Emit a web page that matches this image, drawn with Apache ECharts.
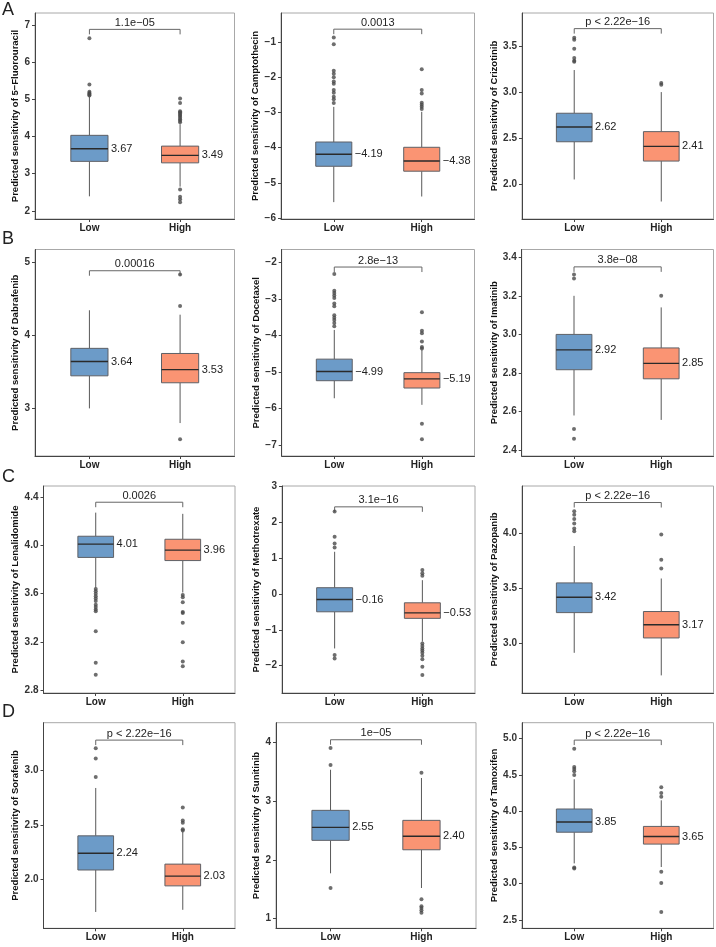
<!DOCTYPE html>
<html><head><meta charset="utf-8">
<script src="https://cdn.jsdelivr.net/npm/echarts@6/dist/echarts.min.js"></script>
<style>html,body{margin:0;padding:0;background:#fff}#c{width:716px;height:947px}</style>
</head><body><div id="c"></div><script>
// ---------------- data ----------------
const drugs = ['5−Fluorouracil','Camptothecin','Crizotinib','Dabrafenib','Docetaxel','Imatinib',
  'Lenalidomide','Methotrexate','Pazopanib','Sorafenib','Sunitinib','Tamoxifen'];
const groups = ['Low','High'];
const pValues = ['1.1e−05','0.0013','p < 2.22e−16','0.00016','2.8e−13','3.8e−08',
  '0.0026','3.1e−16','p < 2.22e−16','p < 2.22e−16','1e−05','p < 2.22e−16'];
// [lower whisker, Q1, median, Q3, upper whisker]
const lowStats = [
  [2.39,3.33,3.67,4.03,5.07],[-5.55,-4.53,-4.19,-3.84,-2.84],[2.05,2.46,2.62,2.77,3.24],
  [3.00,3.445,3.64,3.82,4.34],[-5.72,-5.24,-4.99,-4.65,-3.85],[2.58,2.817,2.92,3.00,3.20],
  [3.65,3.90,4.01,4.075,4.27],[-1.52,-0.50,-0.16,0.17,1.17],[2.915,3.28,3.42,3.55,3.885],
  [1.70,2.086,2.24,2.40,2.84],[1.77,2.33,2.55,2.84,3.53],[3.28,3.71,3.85,4.03,4.44]];
const highStats = [
  [2.65,3.29,3.49,3.74,4.33],[-5.39,-4.67,-4.38,-3.99,-2.98],[1.81,2.25,2.41,2.57,3.00],
  [2.80,3.35,3.53,3.75,4.28],[-5.90,-5.44,-5.19,-5.02,-4.39],[2.557,2.77,2.85,2.93,3.14],
  [3.61,3.874,3.96,4.05,4.26],[-1.33,-0.683,-0.53,-0.25,0.38],[2.71,3.05,3.17,3.29,3.59],
  [1.72,1.94,2.03,2.14,2.44],[1.52,2.17,2.40,2.67,3.39],[3.23,3.546,3.65,3.79,4.15]];
const lowOutliers = [
  [6.64,5.40,5.20,5.17,5.15,5.12,5.10],
  [-0.87,-1.06,-1.81,-1.90,-2.00,-2.12,-2.18,-2.36,-2.44,-2.55,-2.62,-2.73],
  [3.59,3.57,3.47,3.37,3.34,3.33],
  [],
  [-2.32,-2.78,-2.84,-2.91,-2.98,-3.13,-3.20,-3.45,-3.52,-3.58,-3.66,-3.75],
  [3.31,3.29,2.51,2.46],
  [3.64,3.62,3.60,3.58,3.56,3.54,3.51,3.49,3.47,3.455,3.29,3.03,2.93],
  [2.29,1.59,1.40,1.29,-1.70,-1.80],
  [4.20,4.17,4.13,4.09,4.045,4.02],
  [3.205,3.11,2.94],
  [3.90,3.61,1.52],
  [4.86,4.61,4.58,4.55,4.50,3.225,3.21]];
const highOutliers = [
  [5.02,4.90,4.68,4.65,4.62,4.58,4.55,4.50,4.46,4.42,4.38,2.57,2.38,2.31,2.23],
  [-1.77,-2.36,-2.46,-2.72,-2.78,-2.84,-2.90],
  [3.10,3.08],
  [4.83,4.40,2.58],
  [-3.37,-3.87,-3.94,-4.17,-4.32,-4.36,-6.42,-6.84],
  [3.20],
  [3.59,3.57,3.53,3.45,3.44,3.36,3.20,3.04,3.00],
  [0.66,0.57,0.50,-1.38,-1.45,-1.52,-1.58,-1.64,-1.72,-1.82,-2.03,-2.26],
  [3.99,3.76,3.68],
  [2.66,2.54,2.52,2.46,2.45],
  [3.48,1.33,1.21,1.18,1.14,1.10],
  [4.33,4.25,4.20,3.165,3.01,2.61]];
const bracketY = [6.88,-0.63,3.69,4.88,-2.13,3.35,4.356,2.42,4.28,3.28,4.04,4.98];
const yTickLabels = [
  ['2','3','4','5','6','7'],['−6','−5','−4','−3','−2','−1'],['2.0','2.5','3.0','3.5'],
  ['3','4','5'],['−7','−6','−5','−4','−3','−2'],['2.4','2.6','2.8','3.0','3.2','3.4'],
  ['2.8','3.2','3.6','4.0','4.4'],['−2','−1','0','1','2','3'],['3.0','3.5','4.0'],
  ['2.0','2.5','3.0'],['1','2','3','4'],['2.5','3.0','3.5','4.0','4.5','5.0']];
const yRanges = [[1.78,7.32],[-6.03,-0.17],[1.62,3.86],[2.35,5.17],[-7.30,-1.65],[2.37,3.44],
  [2.78,4.49],[-2.76,3.0],[2.55,4.43],[1.55,3.44],[0.835,4.33],[2.385,5.22]];
const panelLetters = ['A','B','C','D'];

// ---------------- layout ----------------
const frames = [ // [left, top, right, bottom]
  [35,13,234.5,219],[281,13,474.5,219],[522,13,713.5,219],
  [35,249.5,234.5,456],[281.7,249.5,474.5,456],[521.7,249.5,713.5,456],
  [43.5,486,235,693],[282,486,475,693],[522,486,713.5,693],
  [43.5,722.7,235,928.3],[276,722.7,476,928.3],[522,722.7,713.5,928.3]];
const titleX = [16.7,257.7,496,18,257.7,496,15,257.7,496,15,257.7,496];
const letterY = [1,230,468,703];
const FONT = '"Liberation Sans", Arial, Helvetica, sans-serif';
const FILL = ['#6C9BC8','#FA9473'];
const BOX_W = 0.41;

const toNum = s => Number(s.replace('−','-'));
const fmtMed = v => (v < 0 ? '−' : '') + Math.abs(v).toFixed(2);

const grid = [], xAxis = [], yAxis = [], series = [];
drugs.forEach((drug, i) => {
  const [l, t, r, b] = frames[i];
  grid.push({left: l, top: t, width: r - l, height: b - t, show: true,
    borderColor: '#a8a8a8', borderWidth: 1, backgroundColor: 'transparent',
    containLabel: false, outerBoundsMode: 'none'});
  xAxis.push({type: 'value', gridIndex: i, min: 0.4, max: 2.6,
    axisLine: {show: true, onZero: false, lineStyle: {color: '#444', width: 1}},
    axisTick: {show: true, length: 3, customValues: [1, 2], lineStyle: {color: '#444'}},
    axisLabel: {show: true, customValues: [1, 2], margin: 4, formatter: v => groups[Math.round(v) - 1],
      fontFamily: FONT, fontSize: 10, fontWeight: 'bold', color: '#222'},
    splitLine: {show: false}});
  const ticks = yTickLabels[i].map(toNum);
  yAxis.push({type: 'value', gridIndex: i, min: yRanges[i][0], max: yRanges[i][1],
    name: 'Predicted sensitivity of ' + drug, nameLocation: 'middle',
    nameGap: l - titleX[i] - 5,
    nameTextStyle: {fontFamily: FONT, fontSize: 9.5, fontWeight: 'bold', color: '#111'},
    axisLine: {show: true, onZero: false, lineStyle: {color: '#444', width: 1}},
    axisTick: {show: true, length: 3, customValues: ticks, lineStyle: {color: '#444'}},
    axisLabel: {show: true, customValues: ticks, margin: 5,
      formatter: v => { const k = ticks.findIndex(x => Math.abs(x - v) < 1e-9); return k >= 0 ? yTickLabels[i][k] : ''; },
      fontFamily: FONT, fontSize: 10, fontWeight: 'bold', color: '#333'},
    splitLine: {show: false}});
  // boxes
  series.push({type: 'custom', xAxisIndex: i, yAxisIndex: i, silent: true,
    encode: {x: 0, y: [1, 2, 3, 4, 5]},
    data: [[1].concat(lowStats[i]), [2].concat(highStats[i])],
    renderItem: (params, api) => {
      const x = api.value(0);
      const lo = api.coord([x, api.value(1)]), q1 = api.coord([x, api.value(2)]);
      const md = api.coord([x, api.value(3)]), q3 = api.coord([x, api.value(4)]);
      const hi = api.coord([x, api.value(5)]);
      const hw = api.size([BOX_W, 0])[0] / 2;
      const stroke = '#585858';
      return {type: 'group', children: [
        {type: 'line', shape: {x1: lo[0], y1: lo[1], x2: q1[0], y2: q1[1]}, style: {stroke, lineWidth: 1}},
        {type: 'line', shape: {x1: q3[0], y1: q3[1], x2: hi[0], y2: hi[1]}, style: {stroke, lineWidth: 1}},
        {type: 'rect', shape: {x: q3[0] - hw, y: q3[1], width: 2 * hw, height: q1[1] - q3[1]},
          style: {fill: FILL[x - 1], stroke: '#5e6066', lineWidth: 1}},
        {type: 'line', shape: {x1: md[0] - hw, y1: md[1], x2: md[0] + hw, y2: md[1]}, style: {stroke: '#2a2a2a', lineWidth: 1.4}},
        {type: 'text', x: md[0] + hw + 3, y: md[1], style: {text: fmtMed(api.value(3)),
          font: '11px ' + FONT, fill: '#222', align: 'left', verticalAlign: 'middle'}}
      ]};
    }});
  // outliers
  series.push({type: 'scatter', xAxisIndex: i, yAxisIndex: i, silent: true, symbolSize: 4,
    itemStyle: {color: '#4a4a4a'},
    data: lowOutliers[i].map(v => [1, v]).concat(highOutliers[i].map(v => [2, v]))});
  // significance bracket
  series.push({type: 'custom', xAxisIndex: i, yAxisIndex: i, silent: true,
    encode: {x: [0, 1], y: 2},
    data: [[1, 2, bracketY[i]]],
    renderItem: (params, api) => {
      const a = api.coord([api.value(0), api.value(2)]);
      const c = api.coord([api.value(1), api.value(2)]);
      return {type: 'group', children: [
        {type: 'polyline', shape: {points: [[a[0], a[1] + 5], a, c, [c[0], c[1] + 5]]},
          style: {stroke: '#666', lineWidth: 1, fill: null}},
        {type: 'text', x: (a[0] + c[0]) / 2, y: a[1] - 1, style: {text: pValues[i],
          font: '11px ' + FONT, fill: '#222', align: 'center', verticalAlign: 'bottom'}}
      ]};
    }});
});

const graphic = panelLetters.map((L, k) => ({type: 'text', left: 2, top: letterY[k],
  style: {text: L, font: '18px ' + FONT, fill: '#222'}}));

const chart = echarts.init(document.getElementById('c'), null, {renderer: 'canvas'});
chart.setOption({animation: false, backgroundColor: '#fff', grid, xAxis, yAxis, series, graphic});
</script></body></html>
